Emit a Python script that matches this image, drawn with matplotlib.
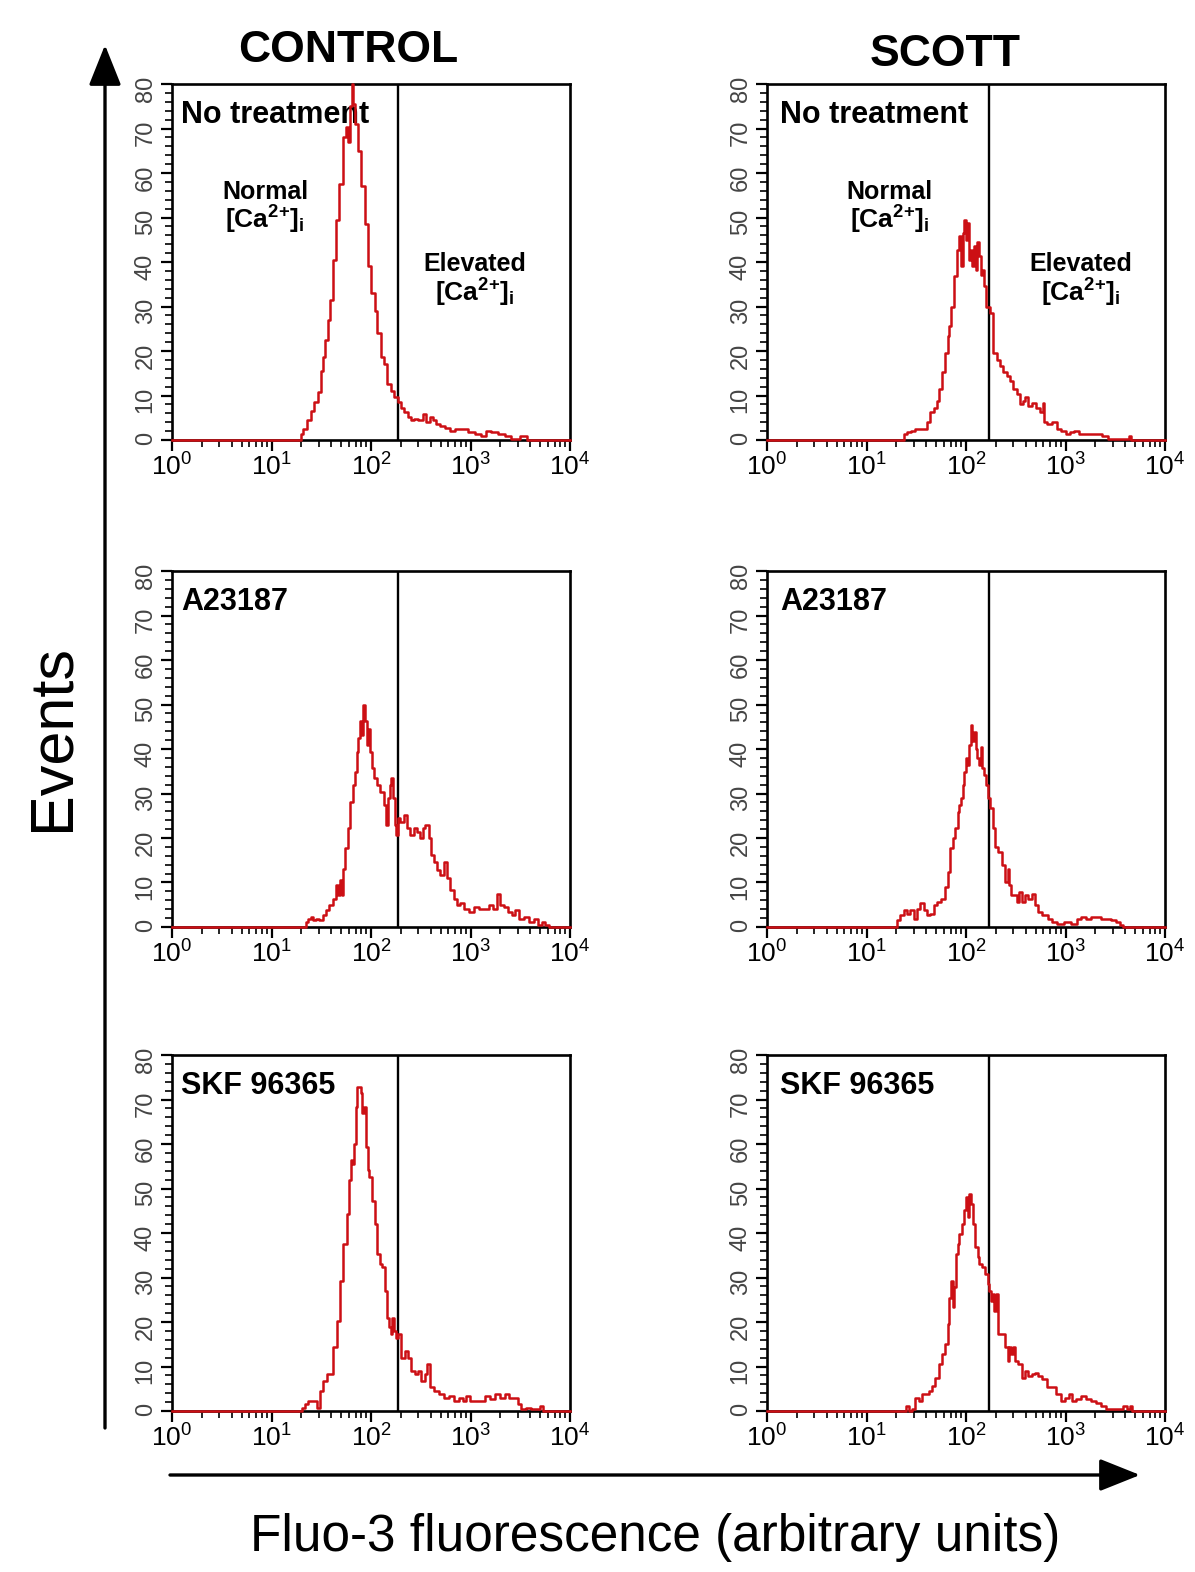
import numpy as np
import matplotlib
matplotlib.use("Agg")
import matplotlib.pyplot as plt
from matplotlib.ticker import FixedLocator, LogLocator, MultipleLocator, NullFormatter
from matplotlib.patches import FancyArrowPatch

# histogram traces: log10(fluorescence) and event counts
ctrl_none_log = [0.0, 1.29, 1.31, 1.33, 1.38, 1.41, 1.45, 1.48, 1.51, 1.53, 1.55, 1.58, 1.60, 1.63, 1.66,
                 1.70, 1.73, 1.76, 1.78, 1.80, 1.81, 1.83, 1.85, 1.88, 1.92, 1.95, 1.98, 2.02, 2.05, 2.08,
                 2.12, 2.15, 2.18, 2.22, 2.25, 2.29, 2.32, 2.35, 2.39, 2.42, 2.45, 2.50, 2.54, 2.57, 2.61,
                 2.64, 2.67, 2.72, 2.77, 2.82, 2.87, 2.94, 3.01, 3.08, 3.13, 3.18, 3.24, 3.31, 3.38, 3.43,
                 3.55, 3.58, 4.0]
ctrl_none_cnt = [0, 0, 1.4, 2.5, 4.4, 6.6, 8.5, 10.7, 15.6, 18.6, 22.4, 26.9, 31.4, 40.4, 49.4,
                 57.6, 68, 70.4, 67, 75, 80, 75.6, 71, 65, 57, 48.6, 39, 33, 29, 24,
                 18.6, 17, 12.6, 11, 9.6, 8.5, 7.3, 6.2, 5.1, 4.4, 4.7, 4.4, 5.8, 4.0, 5.1,
                 4.4, 3.6, 3.2, 2.8, 2.1, 2.5, 2.5, 1.7, 1.4, 1.0, 2.1, 1.7, 1.4, 1.0, 0.2,
                 1.0, 0, 0]

scott_none_log = [0.0, 1.37, 1.39, 1.42, 1.47, 1.50, 1.59, 1.62, 1.66, 1.69, 1.72, 1.74, 1.77, 1.81, 1.82,
                  1.84, 1.86, 1.89, 1.92, 1.94, 1.96, 1.97, 1.99, 2.01, 2.02, 2.04, 2.06, 2.07, 2.09, 2.11,
                  2.12, 2.14, 2.16, 2.17, 2.19, 2.22, 2.26, 2.29, 2.33, 2.36, 2.39, 2.43, 2.46, 2.49, 2.53,
                  2.56, 2.58, 2.61, 2.64, 2.68, 2.73, 2.76, 2.78, 2.79, 2.84, 2.89, 2.93, 2.98, 3.03, 3.06,
                  3.11, 3.16, 3.21, 3.31, 3.41, 3.45, 3.62, 3.65, 3.67, 4.0]
scott_none_cnt = [0, 0, 1.3, 1.7, 2.1, 2.5, 2.5, 4.0, 6.2, 7.3, 8.8, 11.4, 15.2, 19.6, 23.4,
                  25.6, 30, 36.8, 42.7, 45.8, 39, 46.5, 49.5, 45, 48.8, 40.5, 42.8, 39, 43.6, 38.3,
                  44.4, 41.3, 37.1, 38.3, 34.6, 30, 28.6, 19.6, 18, 16.6, 15.2, 14.4, 13.3, 11.4, 10.3,
                  8.0, 8.8, 9.6, 7.7, 8.4, 7.3, 6.2, 8.4, 4.0, 3.6, 4.0, 2.5, 2.1, 1.3, 1.7,
                  2.1, 1.3, 1.3, 1.3, 1.0, 0.2, 0.2, 1.0, 0, 0]

ctrl_a23_log = [0.0, 1.33, 1.36, 1.38, 1.41, 1.43, 1.46, 1.50, 1.53, 1.56, 1.60, 1.63, 1.66, 1.68, 1.70,
                1.71, 1.73, 1.75, 1.78, 1.80, 1.83, 1.85, 1.86, 1.88, 1.90, 1.91, 1.93, 1.95, 1.96, 1.98,
                2.00, 2.01, 2.05, 2.08, 2.11, 2.15, 2.16, 2.18, 2.20, 2.21, 2.23, 2.25, 2.26, 2.28, 2.31,
                2.35, 2.38, 2.41, 2.45, 2.48, 2.51, 2.53, 2.56, 2.60, 2.61, 2.65, 2.68, 2.71, 2.75, 2.78,
                2.81, 2.85, 2.88, 2.91, 2.96, 3.01, 3.06, 3.11, 3.16, 3.21, 3.25, 3.28, 3.31, 3.36, 3.40,
                3.43, 3.46, 3.51, 3.56, 3.61, 3.66, 3.70, 3.73, 3.76, 3.81, 4.0]
ctrl_a23_cnt = [0, 0, 1.1, 1.9, 2.3, 1.5, 1.9, 1.5, 2.6, 3.8, 4.9, 6.4, 9.4, 7.1, 10.5,
                7.1, 13.1, 17.7, 22.2, 28.2, 31.9, 34.9, 39.4, 42.4, 46.2, 43.2, 50, 46.2, 40.9, 44.6,
                39.4, 35.7, 33.4, 31.9, 30.4, 27.4, 22.9, 28.9, 31.9, 33.4, 28.9, 22.9, 20.7, 24.4, 23.7,
                25.2, 22.2, 20.7, 22.2, 21.4, 19.9, 22.2, 22.9, 19.9, 16.2, 14.7, 12.8, 11.6, 14.7, 10.9,
                8.3, 6.4, 4.9, 5.3, 4.1, 3.4, 4.5, 4.1, 4.1, 4.9, 4.1, 7.5, 4.9, 4.5, 3.4,
                2.6, 3.8, 1.9, 2.3, 1.1, 1.9, 0.4, 1.1, 0.4, 0, 0]

scott_a23_log = [0.0, 1.29, 1.32, 1.36, 1.39, 1.42, 1.46, 1.49, 1.52, 1.56, 1.59, 1.62, 1.66, 1.69, 1.72,
                 1.77, 1.81, 1.82, 1.86, 1.87, 1.91, 1.92, 1.94, 1.96, 1.97, 1.99, 2.01, 2.02, 2.04, 2.06,
                 2.07, 2.09, 2.11, 2.12, 2.14, 2.16, 2.17, 2.19, 2.21, 2.23, 2.26, 2.28, 2.31, 2.34, 2.38,
                 2.41, 2.43, 2.44, 2.46, 2.49, 2.53, 2.54, 2.58, 2.61, 2.64, 2.68, 2.71, 2.74, 2.78, 2.81,
                 2.84, 2.88, 2.95, 3.01, 3.10, 3.13, 3.18, 3.23, 3.28, 3.33, 3.38, 3.43, 3.48, 3.53, 3.56,
                 3.60, 4.0]
scott_a23_cnt = [0, 0, 1.5, 2.6, 3.8, 3.0, 3.8, 1.9, 4.1, 5.3, 3.8, 2.6, 3.0, 4.9, 5.6,
                 6.4, 9.0, 12.4, 17.7, 19.9, 22.2, 25.9, 27.4, 28.9, 31.9, 34.9, 37.9, 36.4, 40.9, 45.5,
                 41.7, 43.9, 40.1, 37.9, 36.4, 40.5, 35.7, 34.2, 31.9, 28.9, 26.7, 22.2, 18.0, 16.9, 13.9,
                 10.1, 13.1, 9.4, 7.1, 7.1, 5.6, 7.9, 5.6, 7.1, 6.4, 7.5, 4.9, 3.4, 2.6, 2.6,
                 1.9, 1.1, 0.75, 1.1, 0.75, 1.9, 2.3, 1.9, 2.3, 2.3, 1.9, 1.9, 1.5, 1.1, 0.4,
                 0, 0]

ctrl_skf_log = [0.0, 1.29, 1.32, 1.35, 1.39, 1.44, 1.47, 1.50, 1.54, 1.57, 1.60, 1.64, 1.67, 1.70, 1.74,
                1.77, 1.79, 1.80, 1.82, 1.84, 1.85, 1.87, 1.89, 1.90, 1.92, 1.94, 1.96, 1.97, 1.99, 2.02,
                2.06, 2.07, 2.11, 2.12, 2.16, 2.17, 2.19, 2.21, 2.22, 2.24, 2.26, 2.29, 2.32, 2.36, 2.39,
                2.42, 2.46, 2.49, 2.52, 2.56, 2.57, 2.61, 2.66, 2.71, 2.76, 2.81, 2.86, 2.91, 2.94, 2.97,
                3.01, 3.06, 3.12, 3.17, 3.22, 3.27, 3.33, 3.36, 3.41, 3.46, 3.49, 3.53, 3.58, 3.63, 3.68,
                3.71, 3.74, 4.0]
ctrl_skf_cnt = [0, 0, 0.75, 1.5, 2.3, 2.3, 0.75, 4.5, 6.8, 8.3, 8.3, 14.3, 20.3, 29.3, 37.6,
                44.3, 51.8, 56.3, 55.5, 60.1, 68.4, 72.9, 72.9, 71.4, 66.9, 68.4, 59.3, 54.1, 52.6, 47.3,
                42.1, 35.3, 33.1, 32.3, 27.0, 21.0, 18.8, 17.3, 21.0, 18.0, 16.5, 17.3, 12.0, 13.5, 12.0,
                9.0, 8.3, 9.0, 6.8, 8.3, 10.5, 5.3, 4.5, 3.8, 3.0, 3.4, 2.3, 3.0, 2.3, 3.4,
                2.3, 2.3, 2.3, 3.4, 2.6, 3.8, 3.0, 3.8, 3.0, 3.0, 1.5, 0.4, 0.75, 0.4, 0.4,
                1.1, 0, 0]

scott_skf_log = [0.0, 1.39, 1.41, 1.44, 1.47, 1.51, 1.54, 1.57, 1.61, 1.64, 1.67, 1.71, 1.74, 1.77, 1.81,
                 1.82, 1.84, 1.86, 1.87, 1.89, 1.91, 1.92, 1.94, 1.97, 1.99, 2.01, 2.03, 2.04, 2.06, 2.08,
                 2.11, 2.13, 2.14, 2.18, 2.21, 2.23, 2.24, 2.26, 2.28, 2.29, 2.31, 2.34, 2.38, 2.41, 2.43,
                 2.44, 2.46, 2.48, 2.51, 2.54, 2.58, 2.61, 2.64, 2.68, 2.71, 2.74, 2.79, 2.83, 2.88, 2.93,
                 2.98, 3.01, 3.05, 3.08, 3.13, 3.18, 3.23, 3.28, 3.33, 3.38, 3.43, 3.48, 3.56, 3.60, 3.63,
                 3.66, 3.68, 4.0]
scott_skf_cnt = [0, 0, 1.1, 0, 0.4, 3.0, 2.3, 3.8, 3.8, 4.5, 5.6, 7.5, 10.5, 12.8, 15.0,
                 19.5, 25.5, 29.3, 23.3, 27.8, 35.3, 37.6, 39.8, 42.1, 45.1, 48.1, 43.6, 48.8, 46.6, 42.1,
                 36.8, 34.6, 33.1, 32.3, 30.8, 28.6, 27.0, 24.8, 26.3, 22.5, 26.3, 17.3, 17.3, 14.3, 11.3,
                 14.3, 12.8, 14.3, 11.3, 10.5, 7.5, 9.0, 7.9, 8.3, 8.6, 7.9, 7.1, 5.3, 5.3, 3.8,
                 2.3, 3.0, 3.8, 2.3, 2.6, 3.4, 2.6, 2.3, 1.9, 1.1, 0.4, 0.4, 0.4, 1.1, 0.4,
                 1.1, 0, 0]

# gate marker between normal and elevated [Ca2+]i
gates = {"CONTROL": 186, "SCOTT": 170}
treatments = ["No treatment", "A23187", "SKF 96365"]
x_ticks = [1, 10, 100, 1000, 10000]
x_labels = [r"$10^{0}$", r"$10^{1}$", r"$10^{2}$", r"$10^{3}$", r"$10^{4}$"]

RED = "#cc0f14"

plt.rcParams["font.family"] = ["Liberation Sans", "DejaVu Sans"]
plt.rcParams["mathtext.fontset"] = "custom"
plt.rcParams["mathtext.rm"] = "Liberation Sans"
plt.rcParams["mathtext.bf"] = "Liberation Sans:bold"
plt.rcParams["mathtext.it"] = "Liberation Sans:italic"

fig = plt.figure(figsize=(11.95, 15.72), dpi=100)

W, H = 1195, 1572
col_left = [172, 767]
row_top = [84, 571, 1055]
ax_w, ax_h = 398, 356

curves = [
    [(ctrl_none_log, ctrl_none_cnt), (scott_none_log, scott_none_cnt)],
    [(ctrl_a23_log, ctrl_a23_cnt), (scott_a23_log, scott_a23_cnt)],
    [(ctrl_skf_log, ctrl_skf_cnt), (scott_skf_log, scott_skf_cnt)],
]
groups = ["CONTROL", "SCOTT"]


def draw_panel(ax, log_x, counts, gate, label, zones, zone_x):
    ax.plot(10 ** np.array(log_x), counts, color=RED, lw=1.8, drawstyle="steps-mid",
            zorder=4, clip_on=False)
    ax.axvline(gate, color="black", lw=1.7, zorder=3)
    ax.set_xscale("log")
    ax.set_xlim(1, 1e4)
    ax.set_ylim(0, 80)
    ax.xaxis.set_major_locator(FixedLocator(x_ticks))
    ax.set_xticklabels(x_labels)
    ax.xaxis.set_minor_locator(LogLocator(base=10, subs=np.arange(2, 10)))
    ax.xaxis.set_minor_formatter(NullFormatter())
    ax.yaxis.set_major_locator(MultipleLocator(10))
    ax.yaxis.set_minor_locator(MultipleLocator(2))
    for s in ax.spines.values():
        s.set_linewidth(1.9)
    ax.tick_params(which="both", direction="out", top=False, right=False)
    ax.tick_params(axis="x", which="major", length=8, width=1.6, labelsize=19, pad=2)
    ax.tick_params(axis="x", which="minor", length=5, width=1.2)
    ax.tick_params(axis="y", which="major", length=8, width=1.6, labelsize=17,
                   labelcolor="#444444", labelrotation=90, pad=3)
    ax.tick_params(axis="y", which="minor", length=5, width=1.2)
    for lbl in ax.get_yticklabels():
        lbl.set_family(["Liberation Sans Narrow", "Liberation Sans"])
    ax.text(zone_x[0], 0.89, label, transform=ax.transAxes, fontsize=22,
            fontweight="bold", ha="left", va="baseline")
    if zones:
        ca = r"$\mathbf{[Ca^{2{+}}]_{i}}$"
        ax.text(zone_x[1], 0.677, "Normal", transform=ax.transAxes, fontsize=18,
                fontweight="bold", ha="center", va="baseline")
        ax.text(zone_x[1], 0.593, ca, transform=ax.transAxes, fontsize=19,
                ha="center", va="baseline")
        ax.text(zone_x[2], 0.475, "Elevated", transform=ax.transAxes, fontsize=18,
                fontweight="bold", ha="center", va="baseline")
        ax.text(zone_x[2], 0.390, ca, transform=ax.transAxes, fontsize=19,
                ha="center", va="baseline")


zone_pos = [(0.023, 0.234, 0.761), (0.033, 0.307, 0.789)]

for r in range(3):
    for c in range(2):
        rect = [col_left[c] / W, 1 - (row_top[r] + ax_h) / H, ax_w / W, ax_h / H]
        ax = fig.add_axes(rect)
        lx, cnt = curves[r][c]
        draw_panel(ax, lx, cnt, gates[groups[c]], treatments[r], r == 0, zone_pos[c])

fig.text(348 / W, 1 - 62 / H, "CONTROL", fontsize=32, fontweight="bold", ha="center", va="baseline")
fig.text(945 / W, 1 - 66 / H, "SCOTT", fontsize=32, fontweight="bold", ha="center", va="baseline")
fig.text(53 / W, 1 - 738 / H, "Events", fontsize=44, rotation=90, ha="center", va="center")
fig.text(655 / W, 1 - 1537 / H, "Fluo-3 fluorescence (arbitrary units)", fontsize=37,
         ha="center", va="center")

up = FancyArrowPatch((105 / W, 1 - 1428 / H), (105 / W, 1 - 45 / H), transform=fig.transFigure,
                     arrowstyle="-|>,head_length=1.0,head_width=0.4", mutation_scale=25,
                     lw=2.4, color="black", shrinkA=0, shrinkB=0)
right = FancyArrowPatch((170 / W, 1 - 1475 / H), (1140 / W, 1 - 1475 / H), transform=fig.transFigure,
                        arrowstyle="-|>,head_length=1.0,head_width=0.4", mutation_scale=25,
                        lw=2.4, color="black", shrinkA=0, shrinkB=0)
fig.add_artist(up)
fig.add_artist(right)

fig.savefig("out.png", dpi=100)
